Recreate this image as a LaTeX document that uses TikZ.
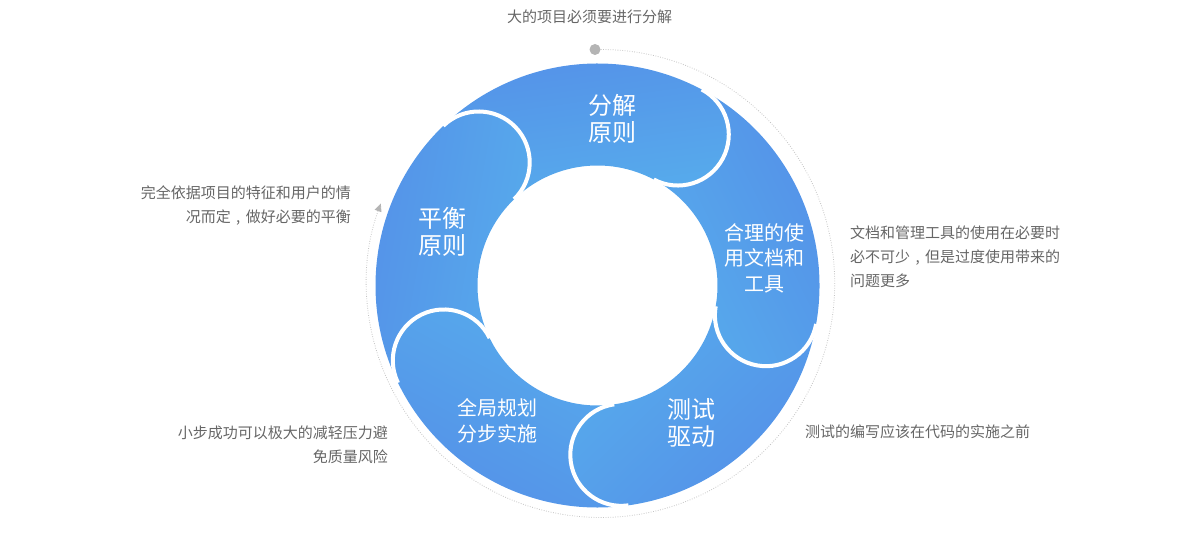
\documentclass[tikz,border=0pt]{standalone}
\usepackage{fontspec}
\setmainfont{Noto Sans CJK SC}
\usetikzlibrary{arrows.meta}
\definecolor{segdark}{HTML}{5590E8}
\definecolor{seglight}{HTML}{56ACEC}
\definecolor{txtgray}{HTML}{666666}
\definecolor{dotgray}{HTML}{B4B4B4}
\definecolor{ringdot}{HTML}{C4C4C4}
\newcommand{\ringseg}[1]{%
  \pgfmathsetmacro\segA{#1+72}%
  \pgfmathsetmacro\segS{#1-54}%
  \path[left color=segdark, right color=seglight, shading angle=\segS]
    (\segA:222) arc[start angle=\segA, end angle=#1, radius=222]
    arc[start angle=#1, end angle=#1-180, radius=51]
    arc[start angle=#1, end angle=\segA, radius=120]
    arc[start angle=\segA-180, end angle=\segA, radius=51] -- cycle;
}
\newcommand{\capline}[1]{%
  \draw[white, line width=4pt] (#1:222) arc[start angle=#1, end angle=#1-180, radius=51];
}
\newcommand{\cjkcomma}{\makebox[1em][c]{,}}
\tikzset{
  sidetext/.style={inner sep=0pt, text=txtgray, font=\fontsize{15}{24}\selectfont},
  bigring/.style={inner sep=0pt, text=white, align=center, font=\fontsize{24}{27}\selectfont},
  smallring/.style={inner sep=0pt, text=white, align=center, font=\fontsize{20}{25.5}\selectfont},
}
\begin{document}
\begin{tikzpicture}[x=1pt,y=1pt]
\useasboundingbox (0,0) rectangle (1200,533);
\begin{scope}[shift={(597.5,247.5)}]
  % ring segments
  \ringseg{62}
  \ringseg{-10}
  \ringseg{-82}
  \ringseg{-154}
  \ringseg{-226}
  \capline{62}
  \capline{-10}
  \capline{-82}
  \capline{-154}
  \capline{-226}
  % dotted cycle
  \node[circle, fill=dotgray, inner sep=0pt, minimum size=11pt] (startdot) at (-2.5,236) {};
  \coordinate (arrowend) at (160:234);
  \draw[ringdot, line width=0.8pt, dash pattern=on 0.8pt off 1.6pt,
        -{Triangle[length=8pt,width=7pt,fill=dotgray,color=dotgray]}]
    (startdot.east) arc[start angle=90, end angle=-200, radius=234];
\end{scope}
% ring labels
\node[bigring] (fenjie) at (612,414.5) {分解\\原则};
\node[smallring] (heli) at (764,275) {合理的使\\用文档和\\工具};
\node[bigring] (ceshi) at (691.5,110.5) {测试\\驱动};
\node[smallring] (quanju) at (497,112) {全局规划\\分步实施};
\node[bigring] (pingheng) at (442,301.5) {平衡\\原则};
% side texts
\node[sidetext, anchor=center] (toptext) at (589.5,516) {大的项目必须要进行分解};
\node[sidetext, anchor=east, align=right] (lefttop) at (351,327.5) {完全依据项目的特征和用户的情\\况而定\cjkcomma 做好必要的平衡};
\node[sidetext, anchor=west, align=left] (righttext) at (850,276) {文档和管理工具的使用在必要时\\必不可少\cjkcomma 但是过度使用带来的\\问题更多};
\node[sidetext, anchor=east, align=right] (leftbottom) at (388,88) {小步成功可以极大的减轻压力避\\免质量风险};
\node[sidetext, anchor=west] (rightbottom) at (805,101) {测试的编写应该在代码的实施之前};
\end{tikzpicture}
\end{document}
